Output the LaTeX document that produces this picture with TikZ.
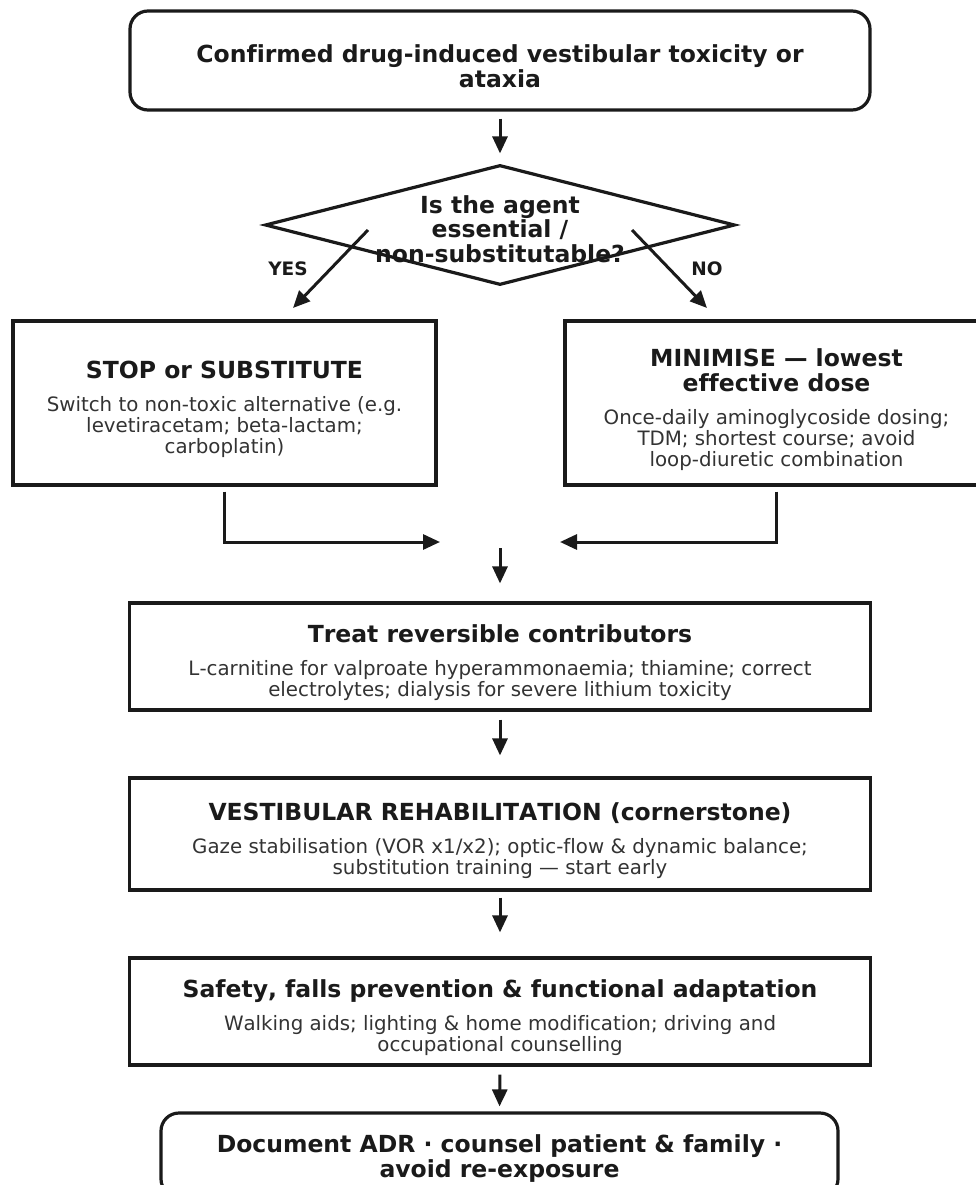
\documentclass[tikz,border=0pt]{standalone}
\usepackage{fontspec}
\setmainfont{DejaVu Sans}[Ligatures=NoCommon,Kerning=Off]
\usetikzlibrary{arrows.meta,shapes.geometric,calc}
\definecolor{ink}{HTML}{1A1A1A}
\definecolor{bodyc}{HTML}{333333}
\newcommand{\fixsp}{\spaceskip=\fontdimen2\font\relax\xspaceskip=\fontdimen2\font\relax}
\newcommand{\ttl}[1]{{\fontsize{23.5}{25}\selectfont\bfseries\fixsp\color{ink}#1\par}}
\newcommand{\bdy}[1]{{\fontsize{19.8}{21}\selectfont\fixsp\color{bodyc}#1\par}}
\newcommand{\gap}{\vspace{12pt}}
\newcommand{\down}[1]{\par\vspace*{#1}}
\tikzset{
  box/.style={draw=ink, line width=3.2pt, rectangle, inner sep=0pt, align=center},
  rbox/.style={box, rounded corners=18pt},
  arr/.style={draw=ink, line width=3pt, -{Triangle[length=17pt,width=15pt]}},
  lbl/.style={font=\fontsize{18.5}{20}\selectfont\bfseries, text=ink}
}
\begin{document}
\begin{tikzpicture}[x=1pt,y=-1pt]
\useasboundingbox (0,0) rectangle (976,1185);
\clip (0,0) rectangle (976,1185);
\fill[white] (0,0) rectangle (976,1185);

\node[rbox, minimum width=740, minimum height=99, text width=740] (top) at (500,60.5)
  {\down{4pt}\ttl{Confirmed drug-induced vestibular toxicity or\\ataxia}};

\node[draw=ink, line width=3.2pt, diamond, minimum width=470, minimum height=120, inner sep=0pt] (q) at (500,225) {};
\node[font=\fontsize{23.5}{24.5}\selectfont\bfseries, text=ink, align=center] (qt) at (500,229)
  {Is the agent\\essential /\\non-substitutable?};

\node[box, minimum width=423, minimum height=164, text width=423] (L) at (224.5,403)
  {\down{5pt}\ttl{STOP or SUBSTITUTE}\gap\bdy{Switch to non-toxic alternative (e.g.\\levetiracetam; beta-lactam;\\carboplatin)}};
\node[box, minimum width=423, minimum height=164, text width=423] (R) at (776.5,403)
  {\down{6pt}\ttl{MINIMISE — lowest\\effective dose}\gap\bdy{Once-daily aminoglycoside dosing;\\TDM; shortest course; avoid\\loop-diuretic combination}};

\node[box, minimum width=741, minimum height=107, text width=741] (b3) at (500,656.5)
  {\down{5.5pt}\ttl{Treat reversible contributors}\gap\bdy{L-carnitine for valproate hyperammonaemia; thiamine; correct\\electrolytes; dialysis for severe lithium toxicity}};
\node[box, minimum width=741, minimum height=112, text width=741] (b4) at (500,834)
  {\down{6pt}\ttl{VESTIBULAR REHABILITATION (cornerstone)}\gap\bdy{Gaze stabilisation (VOR x1/x2); optic-flow \& dynamic balance;\\substitution training — start early}};
\node[box, minimum width=741, minimum height=107, text width=741] (b5) at (500,1011.5)
  {\down{6pt}\ttl{Safety, falls prevention \& functional adaptation}\gap\bdy{Walking aids; lighting \& home modification; driving and\\occupational counselling}};
\node[rbox, minimum width=677, minimum height=84, text width=677] (end) at (499.5,1155)
  {\down{0.5pt}\ttl{Document ADR · counsel patient \& family ·\\avoid re-exposure}};

% connectors
\draw[arr, shorten <=7pt, shorten >=10pt] (top.south) -- (q.north);

\coordinate (yS) at (368,230);
\coordinate (yE) at (293,308);
\coordinate (nS) at (632,230);
\coordinate (nE) at (707,308);
\draw[arr] (yS) -- (yE);
\draw[arr] (nS) -- (nE);
\node[lbl] (yes) at (288,269) {YES};
\node[lbl] (no) at (707,269) {NO};

\coordinate (mL) at (440,542);
\coordinate (mR) at (560,542);
\coordinate (mC) at (500,548);
\draw[arr, shorten <=5pt] (L.south) |- (mL);
\draw[arr, shorten <=5pt] (R.south) |- (mR);
\draw[arr, shorten >=18pt] (mC) -- (b3.north);

\draw[arr, shorten <=8pt, shorten >=21pt] (b3.south) -- (b4.north);
\draw[arr, shorten <=6pt, shorten >=24pt] (b4.south) -- (b5.north);
\draw[arr, shorten <=8pt, shorten >=5pt] (b5.south) -- (end.north);
\end{tikzpicture}
\end{document}
